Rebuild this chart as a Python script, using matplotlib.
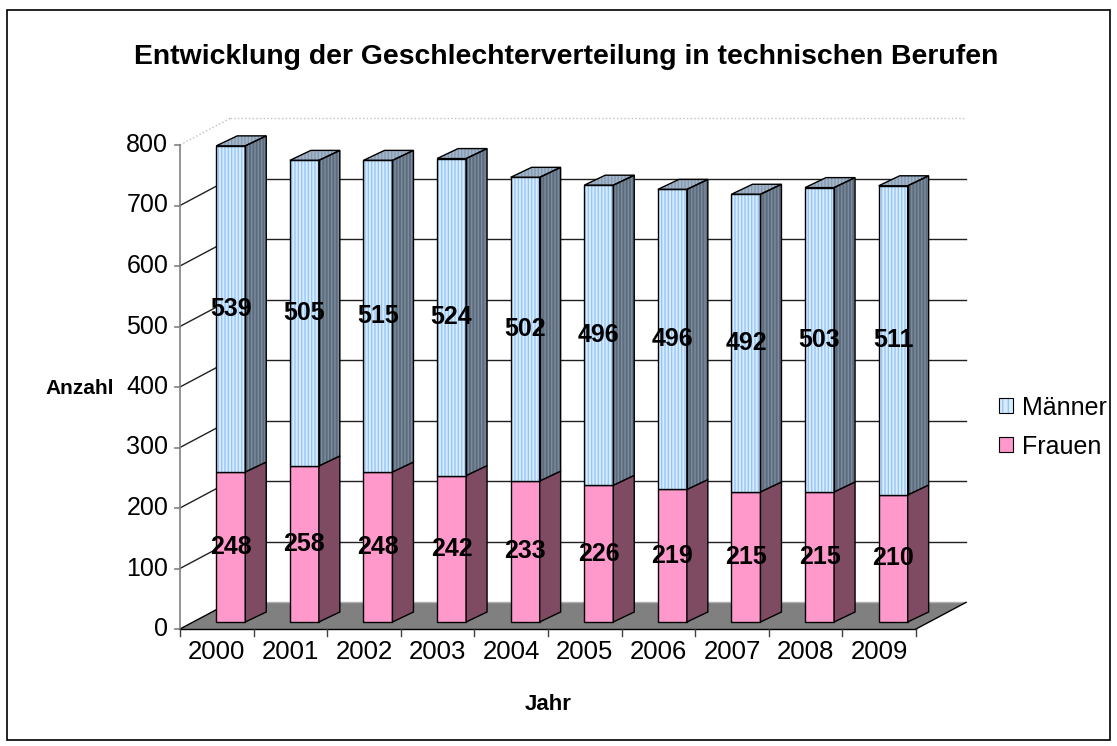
import matplotlib.pyplot as plt
from matplotlib.patches import Polygon, Rectangle, Patch
from matplotlib.legend_handler import HandlerTuple

plt.rcParams['font.family'] = ['Liberation Sans', 'DejaVu Sans']

# data
years = ['2000', '2001', '2002', '2003', '2004', '2005', '2006', '2007', '2008', '2009']
frauen = [248, 258, 248, 242, 233, 226, 219, 215, 215, 210]
maenner = [539, 505, 515, 524, 502, 496, 496, 492, 503, 511]
y_ticks = [0, 100, 200, 300, 400, 500, 600, 700, 800]

# 3D look (in data units: x = categories, y = values)
WALL_DX, WALL_DY = 0.68, 44.0      # depth of floor / back wall
FRONT_DX, FRONT_DY = 0.19, 11.6    # bar front plane inset
BAR_DX, BAR_DY = 0.285, 16.5       # bar depth
HALF_W = 0.197

PINK = '#ff99cc'
PINK_SIDE = '#7f4b63'
BLUE = '#d9ecff'
BLUE_STRIPE = '#96c6f5'
SLATE = '#5d6c7c'
SLATE_STRIPE = '#7b8c9f'
TOP = '#a3b5c9'
TOP_STRIPE = '#8599b0'

W, H = 1117, 746
fig = plt.figure(figsize=(W / 100, H / 100), dpi=100)
ax = fig.add_axes([180 / W, (H - 629) / H, 736 / W, 484 / H])
ax.set_xlim(0, 10)
ax.set_ylim(0, 800)
ax.axis('off')

# outer frame
fig.patches.append(Rectangle((7 / W, 6 / H), 1103 / W, 730 / H, transform=fig.transFigure,
                             fill=False, edgecolor='black', linewidth=1.2))


def face(pts, fc, stripe=None, z=3):
    if stripe is not None:
        ax.add_patch(Polygon(pts, closed=True, facecolor=fc, edgecolor=stripe,
                             hatch='|||||', linewidth=0, zorder=z, clip_on=False))
        ax.add_patch(Polygon(pts, closed=True, facecolor='none', edgecolor='black',
                             linewidth=1.0, zorder=z + 0.1, clip_on=False))
    else:
        ax.add_patch(Polygon(pts, closed=True, facecolor=fc, edgecolor='black',
                             linewidth=1.0, zorder=z, clip_on=False))


# floor
floor = [(0, 0), (10, 0), (10 + WALL_DX, WALL_DY), (WALL_DX, WALL_DY)]
ax.add_patch(Polygon(floor, closed=True, facecolor='#808080', edgecolor='none', zorder=1, clip_on=False))
ax.plot([WALL_DX, 10 + WALL_DX], [WALL_DY, WALL_DY], color='#b0b0b0', lw=1, zorder=1.1, clip_on=False)
ax.plot([10, 10 + WALL_DX], [0, WALL_DY], color='black', lw=1, zorder=1.1, clip_on=False)

# back wall gridlines + left wall diagonals
for t in y_ticks[1:]:
    col, ls = ('#c0c0c0', ':') if t == 800 else ('#202020', '-')
    ax.plot([WALL_DX, 10 + WALL_DX], [t + WALL_DY, t + WALL_DY], color=col, ls=ls, lw=1, zorder=1, clip_on=False)
    ax.plot([0, WALL_DX], [t, t + WALL_DY], color=col, ls=ls, lw=1, zorder=1, clip_on=False)
ax.plot([0, WALL_DX], [0, WALL_DY], color='black', lw=1, zorder=1.1, clip_on=False)

# y axis + ticks
ax.plot([0, 0], [0, 800], color='#808080', lw=1.2, zorder=2, clip_on=False)
for t in y_ticks:
    ax.plot([-0.07, 0], [t, t], color='#808080', lw=1.2, zorder=2, clip_on=False)
    ax.text(-0.16, t, str(t), ha='right', va='center', fontsize=18)

# x axis + ticks
ax.plot([0, 10], [0, 0], color='black', lw=1, zorder=2, clip_on=False)
for i in range(11):
    ax.plot([i, i], [0, -11], color='#404040', lw=1, zorder=2, clip_on=False)
for i, yr in enumerate(years):
    ax.text(i + 0.5, -38, yr, ha='center', va='center', fontsize=18.5)

# bars
for i, (f, m) in enumerate(zip(frauen, maenner)):
    x0 = i + 0.5 - HALF_W + FRONT_DX
    x1 = i + 0.5 + HALF_W + FRONT_DX
    y0 = FRONT_DY
    segs = [(y0, y0 + f, PINK, None, PINK_SIDE, None, f),
            (y0 + f, y0 + f + m, BLUE, BLUE_STRIPE, SLATE, SLATE_STRIPE, m)]
    for (ya, yb, fc, fst, sc, sst, val) in segs:
        face([(x0, ya), (x1, ya), (x1, yb), (x0, yb)], fc, fst)
        face([(x1, ya), (x1 + BAR_DX, ya + BAR_DY), (x1 + BAR_DX, yb + BAR_DY), (x1, yb)], sc, sst)
        ax.text((x0 + x1) / 2, (ya + yb) / 2, str(val), ha='center', va='center',
                fontsize=18, fontweight='bold', zorder=6)
    ytop = y0 + f + m
    face([(x0, ytop), (x1, ytop), (x1 + BAR_DX, ytop + BAR_DY), (x0 + BAR_DX, ytop + BAR_DY)],
         TOP, TOP_STRIPE)

# titles
fig.text(566 / W, 1 - 57 / H, 'Entwicklung der Geschlechterverteilung in technischen Berufen',
         ha='center', va='center', fontsize=20.4, fontweight='bold')
fig.text(80 / W, 1 - 388 / H, 'Anzahl', ha='center', va='center', fontsize=15, fontweight='bold')
fig.text(548 / W, 1 - 705 / H, 'Jahr', ha='center', va='center', fontsize=16, fontweight='bold')

# legend
h_m = (Patch(facecolor=BLUE, edgecolor=BLUE_STRIPE, hatch='|||', lw=0),
       Patch(facecolor='none', edgecolor='black', lw=0.8))
h_f = (Patch(facecolor=PINK, edgecolor='none', lw=0),
       Patch(facecolor='none', edgecolor='black', lw=0.8))
fig.legend([h_m, h_f], ['Männer', 'Frauen'], handler_map={tuple: HandlerTuple(ndivide=1)},
           loc='center left', bbox_to_anchor=(999 / W, 1 - 427 / H), frameon=False,
           fontsize=18, handlelength=0.55, handleheight=0.55, handletextpad=0.35, labelspacing=0.6,
           borderpad=0, borderaxespad=0)

fig.savefig('out.png', dpi=100)
